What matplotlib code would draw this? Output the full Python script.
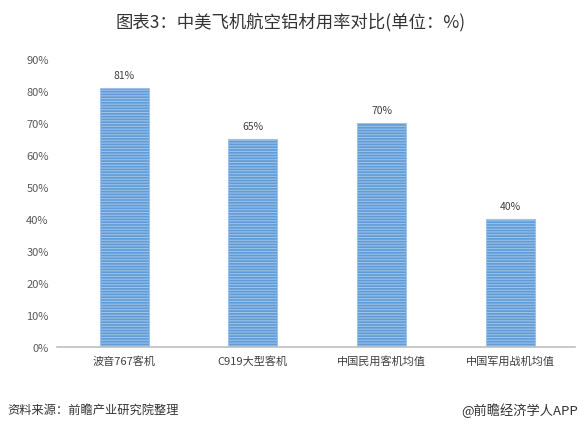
import matplotlib.pyplot as plt

plt.rcParams['font.family'] = ['Noto Sans CJK SC', 'DejaVu Sans']
plt.rcParams['hatch.color'] = 'white'
plt.rcParams['hatch.linewidth'] = 0.8

categories = ["波音767客机", "C919大型客机", "中国民用客机均值", "中国军用战机均值"]
values = [81, 65, 70, 40]
yticks = [0, 10, 20, 30, 40, 50, 60, 70, 80, 90]

fig = plt.figure(figsize=(5.83, 4.31), dpi=100)
ax = fig.add_axes([0.098, 0.193, 0.888, 0.668])

x = range(len(categories))
bars = ax.bar(x, values, width=0.38, color="#5f9bd6", edgecolor="#9cc2e8",
              linewidth=0.8, hatch="------")

for i, v in enumerate(values):
    ax.text(i, v + 2.5, f"{v}%", ha="center", va="bottom", fontsize=7.5, color="#404040")

ax.set_ylim(0, 90)
ax.set_xlim(-0.52, 3.5)
ax.set_yticks(yticks)
ax.set_yticklabels([f"{t}%" for t in yticks], fontsize=8, color="#595959")
ax.set_xticks(list(x))
ax.set_xticklabels(categories, fontsize=8, color="#404040")
ax.tick_params(length=0, pad=6)
for s in ["top", "right", "left"]:
    ax.spines[s].set_visible(False)
ax.spines["bottom"].set_color("#bfbfbf")
ax.spines["bottom"].set_linewidth(1.2)

fig.text(0.498, 0.948, "图表3：中美飞机航空铝材用率对比(单位：%)", ha="center", va="center",
         fontsize=12.5, color="#333333")
fig.text(0.012, 0.047, "资料来源：前瞻产业研究院整理", ha="left", va="center",
         fontsize=8.8, color="#333333")
fig.text(0.992, 0.047, "@前瞻经济学人APP", ha="right", va="center",
         fontsize=9.5, color="#333333")

fig.savefig("out.png", dpi=100)
